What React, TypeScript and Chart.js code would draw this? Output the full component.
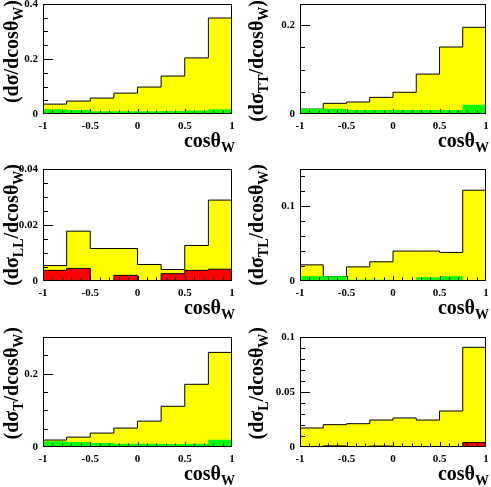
import React, { useEffect, useRef } from 'react';
import { Chart, registerables } from 'chart.js';

Chart.register(...registerables);

// ---------- data ----------
const binEdges = [-1, -0.75, -0.5, -0.25, 0, 0.25, 0.5, 0.75, 1];
const xTickValues = [-1, -0.5, 0, 0.5, 1];
const xTickLabels = ['-1', '-0.5', '0', '0.5', '1'];

// panel 1: dσ/dcosθW
const totalYellow = [0.036, 0.047, 0.058, 0.076, 0.098, 0.138, 0.204, 0.349];
const totalGreen = [0.017, 0.0145, 0.010, 0.010, 0.010, 0.011, 0.013, 0.017];
const totalYTicks = [0, 0.2, 0.4];
const totalYLabels = ['0', '0.2', '0.4'];

// panel 2: dσTT/dcosθW
const ttYellow = [0.011, 0.024, 0.027, 0.0375, 0.049, 0.090, 0.151, 0.1955];
const ttGreen = [0.012, 0.012, 0.009, 0.009, 0.009, 0.009, 0.009, 0.021];
const ttYTicks = [0, 0.2];
const ttYLabels = ['0', '0.2'];

// panel 3: dσLL/dcosθW
const llYellow = [0.0055, 0.0178, 0.0116, 0.0116, 0.0059, 0.0041, 0.0127, 0.0289];
const llRed = [0.0038, 0.0045, 0.0, 0.002, 0.0, 0.0026, 0.0038, 0.0042];
const llYTicks = [0, 0.02, 0.04];
const llYLabels = ['0', '0.02', '0.04'];

// panel 4: dσTL/dcosθW
const tlYellow = [0.0216, 0.006, 0.0189, 0.0257, 0.0401, 0.0401, 0.0383, 0.1216];
const tlGreen = [0.0063, 0.0063, 0.0018, 0.0018, 0.0014, 0.005, 0.0063, 0.0012];
const tlRed = [0, 0, 0.0012, 0, 0, 0, 0, 0];
const tlYTicks = [0, 0.1];
const tlYLabels = ['0', '0.1'];

// panel 5: dσT/dcosθW
const tYellow = [0.019, 0.027, 0.038, 0.0516, 0.0706, 0.111, 0.171, 0.258];
const tGreen = [0.0154, 0.0136, 0.011, 0.009, 0.009, 0.008, 0.009, 0.020];
const tYTicks = [0, 0.2];
const tYLabels = ['0', '0.2'];

// panel 6: dσL/dcosθW
const lYellow = [0.0173, 0.0203, 0.0212, 0.0245, 0.0264, 0.0245, 0.0327, 0.0906];
const lRed = [0, 0.001, 0, 0.0008, 0, 0, 0, 0.004];
const lYTicks = [0, 0.05, 0.1];
const lYLabels = ['0', '0.05', '0.1'];

// ---------- styling / layout ----------
const YELLOW = '#ffff00';
const GREEN = '#00ff00';
const RED = '#ff0000';
const FONT = "'Liberation Serif', 'Times New Roman', serif";

type Series = { values: number[]; color: string; outline: boolean };
type Panel = {
  left: number; top: number; w: number; h: number;
  plotLeft: number; plotTop: number; plotRight: number; plotBottom: number;
  yMax: number; yMinor: number; yTicks: number[]; yLabels: string[];
  sub: string; series: Series[]; // drawn in order (first = bottom)
};

const COLS = [
  { left: 0, w: 245, plotLeft: 43, plotRight: 232 },
  { left: 245, w: 246, plotLeft: 300, plotRight: 486 },
];
const ROWS = [
  { top: 0, h: 162, plotTop: 4, plotBottom: 114 },
  { top: 162, h: 163, plotTop: 169, plotBottom: 281 },
  { top: 325, h: 162, plotTop: 337, plotBottom: 447 },
];

function mk(col: number, row: number, rest: Omit<Panel, 'left' | 'top' | 'w' | 'h' | 'plotLeft' | 'plotTop' | 'plotRight' | 'plotBottom'>): Panel {
  const c = COLS[col];
  const r = ROWS[row];
  return { left: c.left, w: c.w, plotLeft: c.plotLeft, plotRight: c.plotRight, top: r.top, h: r.h, plotTop: r.plotTop, plotBottom: r.plotBottom, ...rest };
}

const panels: Panel[] = [
  mk(0, 0, { yMax: 0.4, yMinor: 0.05, yTicks: totalYTicks, yLabels: totalYLabels, sub: '',
    series: [{ values: totalYellow, color: YELLOW, outline: true }, { values: totalGreen, color: GREEN, outline: false }] }),
  mk(1, 0, { yMax: 0.248, yMinor: 0.05, yTicks: ttYTicks, yLabels: ttYLabels, sub: 'TT',
    series: [{ values: ttYellow, color: YELLOW, outline: true }, { values: ttGreen, color: GREEN, outline: false }] }),
  mk(0, 1, { yMax: 0.04, yMinor: 0.005, yTicks: llYTicks, yLabels: llYLabels, sub: 'LL',
    series: [{ values: llYellow, color: YELLOW, outline: true }, { values: llRed, color: RED, outline: true }] }),
  mk(1, 1, { yMax: 0.15, yMinor: 0.02, yTicks: tlYTicks, yLabels: tlYLabels, sub: 'TL',
    series: [{ values: tlYellow, color: YELLOW, outline: true }, { values: tlGreen, color: GREEN, outline: false }, { values: tlRed, color: RED, outline: false }] }),
  mk(0, 2, { yMax: 0.30, yMinor: 0.05, yTicks: tYTicks, yLabels: tYLabels, sub: 'T',
    series: [{ values: tYellow, color: YELLOW, outline: true }, { values: tGreen, color: GREEN, outline: false }] }),
  mk(1, 2, { yMax: 0.1, yMinor: 0.01, yTicks: lYTicks, yLabels: lYLabels, sub: 'L',
    series: [{ values: lYellow, color: YELLOW, outline: true }, { values: lRed, color: RED, outline: true }] }),
];

function labelFor(values: number[], labels: string[], v: number): string {
  const i = values.findIndex((t) => Math.abs(t - v) < 1e-9);
  return i >= 0 ? labels[i] : '';
}

function makeFramePlugin(p: Panel) {
  return {
    id: 'rootFrame',
    afterDatasetsDraw(chart: any) {
      const ctx: CanvasRenderingContext2D = chart.ctx;
      const xs = chart.scales.x;
      const ys = chart.scales.y;
      const { left, top, right, bottom } = chart.chartArea;
      const L = Math.round(left);
      const B = Math.round(bottom);
      ctx.save();
      ctx.strokeStyle = '#000000';
      ctx.lineWidth = 1;
      ctx.beginPath();
      // x ticks every 0.1, major every 0.5 (inside the frame)
      for (let k = 1; k < 20; k++) {
        const v = -1 + k * 0.1;
        const px = Math.round(xs.getPixelForValue(v)) + 0.5;
        const len = k % 5 === 0 ? 5 : 3.5;
        ctx.moveTo(px, B);
        ctx.lineTo(px, B - len);
      }
      // y ticks (inside the frame)
      for (let k = 1; k * p.yMinor < p.yMax - 1e-9; k++) {
        const v = k * p.yMinor;
        const isMajor = p.yTicks.some((t) => Math.abs(t - v) < 1e-9);
        const py = Math.round(ys.getPixelForValue(v)) + 0.5;
        ctx.moveTo(L, py);
        ctx.lineTo(L + (isMajor ? 10 : 5), py);
      }
      ctx.stroke();
      ctx.strokeRect(L + 0.5, Math.round(top) + 0.5, Math.round(right - left) - 1, Math.round(bottom - top) - 1);
      ctx.restore();
    },
  };
}

function HistPanel({ p }: { p: Panel }) {
  const ref = useRef<HTMLCanvasElement | null>(null);
  useEffect(() => {
    if (!ref.current) return;
    const datasets = p.series
      .slice()
      .reverse()
      .map((s) => ({
        data: binEdges.map((x, i) => ({ x, y: s.values[Math.min(i, s.values.length - 1)] })),
        stepped: true as const,
        fill: 'origin',
        backgroundColor: s.color,
        borderColor: s.outline ? '#000000' : s.color,
        borderWidth: s.outline ? 1 : 0,
        pointRadius: 0,
        tension: 0,
      }));
    const tickFont = { family: FONT, size: 11, weight: 'bold' as const };
    const chart = new Chart(ref.current, {
      type: 'line',
      data: { datasets: datasets as any },
      options: {
        animation: false,
        responsive: false,
        maintainAspectRatio: false,
        events: [],
        layout: {
          autoPadding: false,
          padding: { top: p.plotTop - p.top, right: p.left + p.w - p.plotRight, left: 0, bottom: 0 },
        },
        plugins: {
          legend: { display: false },
          tooltip: { enabled: false },
        },
        scales: {
          x: {
            type: 'linear',
            min: -1,
            max: 1,
            grid: { display: false, drawTicks: false },
            border: { display: false },
            ticks: {
              stepSize: 0.5,
              includeBounds: false,
              autoSkip: false,
              maxRotation: 0,
              padding: 6,
              color: '#000',
              font: tickFont,
              callback: (v: any) => labelFor(xTickValues, xTickLabels, Number(v)),
            },
            afterFit: (s: any) => {
              s.height = p.top + p.h - p.plotBottom;
              s.paddingLeft = 0;
              s.paddingRight = 0;
            },
          },
          y: {
            type: 'linear',
            min: 0,
            max: p.yMax,
            grid: { display: false, drawTicks: false },
            border: { display: false },
            ticks: {
              stepSize: p.yTicks[1] - p.yTicks[0],
              includeBounds: false,
              autoSkip: false,
              padding: 5,
              color: '#000',
              font: tickFont,
              callback: (v: any) => labelFor(p.yTicks, p.yLabels, Number(v)),
            },
            afterFit: (s: any) => {
              s.width = p.plotLeft - p.left;
              s.paddingTop = 0;
              s.paddingBottom = 0;
            },
          },
        },
      },
      plugins: [makeFramePlugin(p)],
    });
    return () => chart.destroy();
  }, [p]);

  const subStyle: React.CSSProperties = { fontSize: 14, lineHeight: 0, verticalAlign: 'baseline', position: 'relative', top: 5 };
  const W0 = 160;
  return (
    <>
      <canvas
        ref={ref}
        width={p.w}
        height={p.h}
        style={{ position: 'absolute', left: p.left, top: p.top, width: p.w, height: p.h }}
      />
      <div
        style={{
          position: 'absolute',
          left: p.left + 0.5,
          top: p.top + (p.top === 0 ? 0 : 2) + W0,
          width: W0,
          height: 20,
          lineHeight: '20px',
          fontFamily: FONT,
          fontWeight: 'bold',
          fontSize: 20,
          textAlign: 'right',
          whiteSpace: 'nowrap',
          transformOrigin: '0 0',
          transform: 'rotate(-90deg)',
          color: '#000',
        }}
      >
        (dσ{p.sub ? <span style={subStyle}>{p.sub}</span> : null}/dcosθ<span style={subStyle}>W</span>)
      </div>
      <div
        style={{
          position: 'absolute',
          left: p.plotRight + 3 - 120,
          top: p.plotBottom + 32.5 - 16.75,
          width: 120,
          height: 20,
          lineHeight: '20px',
          fontFamily: FONT,
          fontWeight: 'bold',
          fontSize: 20,
          textAlign: 'right',
          whiteSpace: 'nowrap',
          color: '#000',
        }}
      >
        cosθ<span style={subStyle}>W</span>
      </div>
    </>
  );
}

export default function App() {
  return (
    <div style={{ position: 'absolute', left: 0, top: 0, width: 491, height: 487, background: '#fff', overflow: 'hidden' }}>
      {panels.map((p, i) => (
        <HistPanel key={i} p={p} />
      ))}
    </div>
  );
}
